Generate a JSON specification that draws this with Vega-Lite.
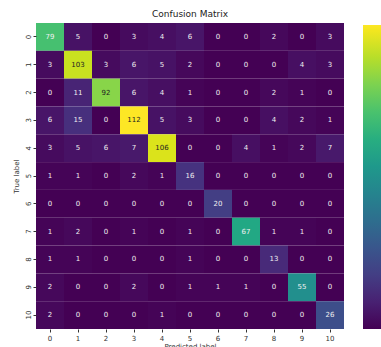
{
  "$schema": "https://vega.github.io/schema/vega-lite/v6.json",
  "width": 308,
  "height": 306,
  "autosize": {"type": "none"},
  "padding": {"left": 36, "top": 23, "right": 37, "bottom": 18},
  "background": "white",
  "config": {"view": {"stroke": null}, "font": "DejaVu Sans"},
  "title": {"text": "Confusion Matrix", "fontSize": 9, "fontWeight": "normal", "color": "#222", "offset": 4, "anchor": "middle"},
  "data": {"values": [
    {"t":0,"p":0,"v":79},{"t":0,"p":1,"v":5},{"t":0,"p":2,"v":0},{"t":0,"p":3,"v":3},{"t":0,"p":4,"v":4},{"t":0,"p":5,"v":6},{"t":0,"p":6,"v":0},{"t":0,"p":7,"v":0},{"t":0,"p":8,"v":2},{"t":0,"p":9,"v":0},{"t":0,"p":10,"v":3},
    {"t":1,"p":0,"v":3},{"t":1,"p":1,"v":103},{"t":1,"p":2,"v":3},{"t":1,"p":3,"v":6},{"t":1,"p":4,"v":5},{"t":1,"p":5,"v":2},{"t":1,"p":6,"v":0},{"t":1,"p":7,"v":0},{"t":1,"p":8,"v":0},{"t":1,"p":9,"v":4},{"t":1,"p":10,"v":3},
    {"t":2,"p":0,"v":0},{"t":2,"p":1,"v":11},{"t":2,"p":2,"v":92},{"t":2,"p":3,"v":6},{"t":2,"p":4,"v":4},{"t":2,"p":5,"v":1},{"t":2,"p":6,"v":0},{"t":2,"p":7,"v":0},{"t":2,"p":8,"v":2},{"t":2,"p":9,"v":1},{"t":2,"p":10,"v":0},
    {"t":3,"p":0,"v":6},{"t":3,"p":1,"v":15},{"t":3,"p":2,"v":0},{"t":3,"p":3,"v":112},{"t":3,"p":4,"v":5},{"t":3,"p":5,"v":3},{"t":3,"p":6,"v":0},{"t":3,"p":7,"v":0},{"t":3,"p":8,"v":4},{"t":3,"p":9,"v":2},{"t":3,"p":10,"v":1},
    {"t":4,"p":0,"v":3},{"t":4,"p":1,"v":5},{"t":4,"p":2,"v":6},{"t":4,"p":3,"v":7},{"t":4,"p":4,"v":106},{"t":4,"p":5,"v":0},{"t":4,"p":6,"v":0},{"t":4,"p":7,"v":4},{"t":4,"p":8,"v":1},{"t":4,"p":9,"v":2},{"t":4,"p":10,"v":7},
    {"t":5,"p":0,"v":1},{"t":5,"p":1,"v":1},{"t":5,"p":2,"v":0},{"t":5,"p":3,"v":2},{"t":5,"p":4,"v":1},{"t":5,"p":5,"v":16},{"t":5,"p":6,"v":0},{"t":5,"p":7,"v":0},{"t":5,"p":8,"v":0},{"t":5,"p":9,"v":0},{"t":5,"p":10,"v":0},
    {"t":6,"p":0,"v":0},{"t":6,"p":1,"v":0},{"t":6,"p":2,"v":0},{"t":6,"p":3,"v":0},{"t":6,"p":4,"v":0},{"t":6,"p":5,"v":0},{"t":6,"p":6,"v":20},{"t":6,"p":7,"v":0},{"t":6,"p":8,"v":0},{"t":6,"p":9,"v":0},{"t":6,"p":10,"v":0},
    {"t":7,"p":0,"v":1},{"t":7,"p":1,"v":2},{"t":7,"p":2,"v":0},{"t":7,"p":3,"v":1},{"t":7,"p":4,"v":0},{"t":7,"p":5,"v":1},{"t":7,"p":6,"v":0},{"t":7,"p":7,"v":67},{"t":7,"p":8,"v":1},{"t":7,"p":9,"v":1},{"t":7,"p":10,"v":0},
    {"t":8,"p":0,"v":1},{"t":8,"p":1,"v":1},{"t":8,"p":2,"v":0},{"t":8,"p":3,"v":0},{"t":8,"p":4,"v":0},{"t":8,"p":5,"v":1},{"t":8,"p":6,"v":0},{"t":8,"p":7,"v":0},{"t":8,"p":8,"v":13},{"t":8,"p":9,"v":0},{"t":8,"p":10,"v":0},
    {"t":9,"p":0,"v":2},{"t":9,"p":1,"v":0},{"t":9,"p":2,"v":0},{"t":9,"p":3,"v":2},{"t":9,"p":4,"v":0},{"t":9,"p":5,"v":1},{"t":9,"p":6,"v":1},{"t":9,"p":7,"v":1},{"t":9,"p":8,"v":0},{"t":9,"p":9,"v":55},{"t":9,"p":10,"v":0},
    {"t":10,"p":0,"v":2},{"t":10,"p":1,"v":0},{"t":10,"p":2,"v":0},{"t":10,"p":3,"v":0},{"t":10,"p":4,"v":1},{"t":10,"p":5,"v":0},{"t":10,"p":6,"v":0},{"t":10,"p":7,"v":0},{"t":10,"p":8,"v":0},{"t":10,"p":9,"v":0},{"t":10,"p":10,"v":26}
  ]},
  "encoding": {
    "x": {"field": "p", "type": "ordinal", "scale": {"paddingInner": 0, "paddingOuter": 0},
      "axis": {"title": "Predicted label", "labelAngle": 0, "labelFontSize": 7, "titleFontSize": 7, "titleFontWeight": "normal", "labelColor": "#333", "titleColor": "#333", "domain": false, "tickSize": 3, "tickColor": "#333", "labelPadding": 2, "titlePadding": 1}},
    "y": {"field": "t", "type": "ordinal", "scale": {"paddingInner": 0, "paddingOuter": 0},
      "axis": {"title": "True label", "labelAngle": -90, "labelAlign": "center", "labelBaseline": "bottom", "labelFontSize": 7, "titleFontSize": 7, "titleFontWeight": "normal", "labelColor": "#333", "titleColor": "#333", "domain": false, "tickSize": 3, "tickColor": "#333", "labelPadding": 2, "titlePadding": 5}}
  },
  "layer": [
    {"mark": {"type": "rect"},
     "encoding": {"color": {"field": "v", "type": "quantitative", "scale": {"scheme": "viridis", "domain": [0, 112]},
       "legend": {"title": null, "orient": "none", "legendX": 327, "legendY": 2, "direction": "vertical", "gradientLength": 304, "gradientThickness": 18, "gradientStrokeWidth": 0, "labels": false}}}},
    {"mark": {"type": "text", "fontSize": 7},
     "encoding": {"text": {"field": "v", "type": "quantitative"},
       "color": {"condition": {"test": "datum.v > 80", "value": "#222222"}, "value": "#f0f0f0"}}}
  ]
}
